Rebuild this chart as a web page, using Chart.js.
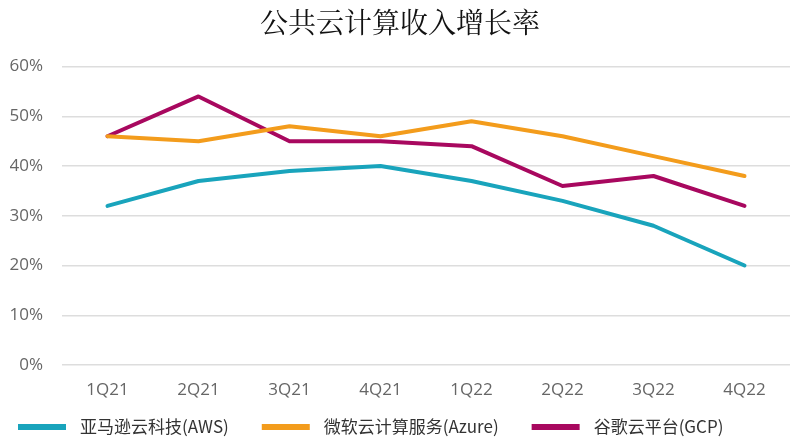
<!DOCTYPE html>
<html>
<head>
<meta charset="utf-8">
<script src="https://cdn.jsdelivr.net/npm/chart.js@4"></script>
<style>
html,body{margin:0;padding:0;background:#fff;}
#wrap{width:800px;height:439px;position:relative;}
</style>
</head>
<body>
<div id="wrap"><canvas id="c"></canvas></div>
<script>
const categories = ['1Q21','2Q21','3Q21','4Q21','1Q22','2Q22','3Q22','4Q22'];
const awsValues = [32, 37, 39, 40, 37, 33, 28, 20];
const azureValues = [46, 45, 48, 46, 49, 46, 42, 38];
const gcpValues = [46, 54, 45, 45, 44, 36, 38, 32];
const seriesNames = ['亚马逊云科技(AWS)', '微软云计算服务(Azure)', '谷歌云平台(GCP)'];
const yTicks = [0, 10, 20, 30, 40, 50, 60];
const titleText = '公共云计算收入增长率';

const colors = ['#19A4BC', '#F39C1C', '#A8085F'];

function ds(label, data, color) {
  return {
    label, data,
    borderColor: color, backgroundColor: color,
    borderWidth: 4, pointRadius: 0, pointHoverRadius: 0,
    tension: 0, fill: false, borderCapStyle: 'round', borderJoinStyle: 'round'
  };
}

// custom bottom legend
const bottomLegend = {
  id: 'bottomLegend',
  afterDraw(chart) {
    const ctx = chart.ctx;
    const font = "17px 'Noto Sans CJK SC', sans-serif";
    ctx.save();
    ctx.font = font;
    ctx.textBaseline = 'middle';
    ctx.textAlign = 'left';
    let x = 18;
    const yc = 427;
    const boxW = 48, boxH = 6, gapBox = 14, gapItem = 33;
    chart.data.datasets.forEach(d => {
      ctx.fillStyle = d.borderColor;
      ctx.fillRect(x, yc - boxH / 2, boxW, boxH);
      x += boxW + gapBox;
      ctx.fillStyle = '#333';
      ctx.fillText(d.label, x, yc);
      x += ctx.measureText(d.label).width + gapItem;
    });
    ctx.restore();
  }
};

new Chart(document.getElementById('c'), {
  type: 'line',
  data: {
    labels: categories,
    datasets: [
      ds(seriesNames[0], awsValues, colors[0]),
      ds(seriesNames[1], azureValues, colors[1]),
      ds(seriesNames[2], gcpValues, colors[2])
    ]
  },
  plugins: [bottomLegend],
  options: {
    responsive: true,
    maintainAspectRatio: false,
    animation: false,
    layout: { padding: { left: 10, right: 10, top: 0, bottom: 41 } },
    plugins: {
      tooltip: { enabled: false },
      title: {
        display: true,
        text: titleText,
        color: '#111',
        font: { family: "'Noto Serif CJK SC','Noto Sans CJK SC', serif", size: 28, weight: 'normal' },
        padding: { top: 6, bottom: 27 }
      },
      legend: { display: false }
    },
    scales: {
      x: {
        offset: true,
        grid: { display: false, drawTicks: false },
        border: { display: false },
        afterFit: (axis) => { axis.height = 33; },
        ticks: {
          color: '#666', padding: 15, maxRotation: 0,
          font: { family: "'Open Sans', sans-serif", size: 17 }
        }
      },
      y: {
        min: 0, max: 60,
        afterBuildTicks: (axis) => { axis.ticks = yTicks.map(v => ({ value: v })); },
        afterFit: (axis) => { axis.width = 52; },
        grid: { color: '#DDDDDD', lineWidth: 1.5, drawTicks: false },
        border: { display: false },
        ticks: {
          color: '#666', padding: 19,
          font: { family: "'Open Sans', sans-serif", size: 17 },
          callback: (v) => v + '%'
        }
      }
    }
  }
});
</script>
</body>
</html>
